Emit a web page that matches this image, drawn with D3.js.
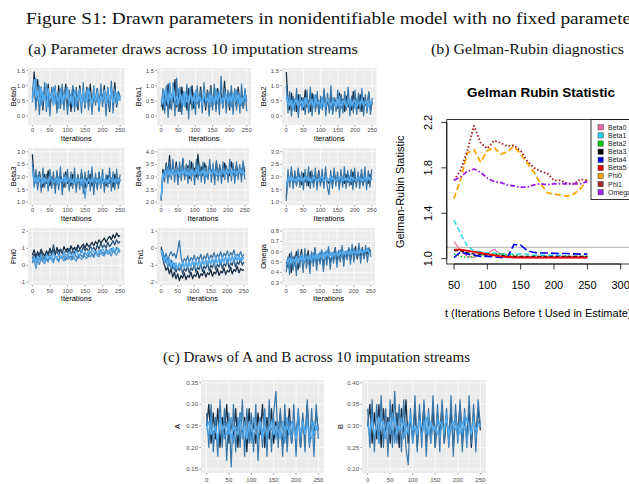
<!DOCTYPE html>
<html><head><meta charset="utf-8">
<script src="https://cdn.jsdelivr.net/npm/d3@7"></script>
<style>body{margin:0;background:#fff}svg{display:block}</style>
</head><body>
<script>
// Figure S1 — trace plots of drawn parameters (10 imputation streams, shown as
// a few representative streams per facet), Gelman-Rubin curves, and A/B draws.

// ---------- trace data: one array per stream, iterations 0..250 evenly ----------
const beta0 = [
  [.45,1.05,.2,.95,.05,.9,.3,1.1,.15,.85,0,.95,.35,1,.1,.8,.25,1.05,.2,.9,.05,.85,.4,1,.15,.95,.3,.85,.1,1.1,.25,.9,.2,.8,.05,1,.35,.9,.15,1.05,.3,.85,0,.95,.2,1.15,.1,.9,.35,.8,.5],
  [.6,1.45,.3,1.2,.4,.95,.2,.85,.45,1.05,.25,.75,.5,.9,.2,1,.35,.8,.55,1.05,.3,.7,.15,.95,.45,.8,.2,1,.4,.75,.3,.95,.5,1.05,.25,.7,.45,.9,.2,.85,.55,1,.3,.75,.15,.9,.45,1.1,.3,.8,.6],
  [.7,.9,1.25,.5,1,.35,.8,.55,1.05,.3,.75,.6,.95,.4,.7,.25,.9,.45,.8,.6,.95,.35,.7,.5,.85,.3,.65,.9,.45,.75,.35,.85,.55,.7,.4,.95,.5,.65,.3,.8,.45,.7,.55,.9,.35,.75,.5,.85,.4,.7,.65],
  [.5,1.2,.6,.85,.4,.95,.5,.7,.3,.9,.55,.75,.35,.85,.6,.5,.8,.4,.7,.55,.9,.45,.65,.3,.8,.6,.5,.75,.35,.85,.55,.45,.9,.6,.4,.7,.5,.8,.35,.65,.55,.85,.4,.7,.5,.9,.45,.6,.75,.5,.65]
];
const beta1 = [
  [.3,.9,.1,1,-.05,.85,.2,1.1,0,1.25,.15,.95,.05,.8,.3,1.05,-.1,.9,.2,.75,.05,1,.25,.85,.1,1.1,.3,.8,0,.95,.2,1.05,.15,.8,.05,1.3,.25,.9,.1,.85,.3,1,.05,.9,.2,.8,.1,1.05,.25,.9,.15],
  [.5,.2,.8,.35,1.05,.25,.7,.45,1.2,.3,.85,.15,.95,.5,.7,.2,.9,.4,1,.25,.75,.55,.3,.95,.4,.7,.2,.85,.5,1,.35,.65,.25,.9,.45,.75,.3,1.15,.4,.6,.2,.85,.5,.7,.3,.95,.45,.65,.25,.8,.5],
  [.4,.75,.3,.9,.5,1.1,.4,.8,.55,.35,.9,.6,.45,.8,.3,.7,.55,.95,.4,.65,.3,.8,.5,.6,.35,.85,.55,.45,.75,.3,.65,.5,.9,.4,.7,.55,.35,.8,.6,.45,.75,.3,.65,.5,.85,.4,.7,.35,.6,.75,.45],
  [.55,.45,.85,.6,.4,.75,.55,.95,.5,.65,.4,.7,.6,.35,.8,.5,.45,.7,.6,.5,.85,.45,.65,.55,.4,.75,.5,.6,.45,.7,.55,.4,.65,.5,.8,.45,.6,.55,.7,.4,.65,.5,.75,.45,.55,.7,.4,.6,.5,.65,.55]
];
const beta2 = [
  [1,.1,.8,0,.65,.15,.9,-.05,.7,.2,.6,.05,.85,.1,.95,0,.7,.15,.8,.05,.65,.2,.9,0,.75,.1,1,.05,.6,.15,.85,-.05,.7,.1,.8,.2,.95,0,.65,.1,.85,.05,.75,.15,.9,0,.7,.1,.8,.05,.6],
  [1.45,.5,.2,.75,.3,.55,.15,.7,.35,.6,.2,.85,.3,.5,.15,.75,.4,.25,.65,.1,.55,.35,.8,.2,.5,.3,.7,.15,.6,.4,.25,.75,.35,.55,.15,.65,.3,.5,.2,.8,.35,.55,.25,.7,.15,.6,.4,.3,.75,.2,.45],
  [.9,.3,.6,.4,.2,.55,.45,.3,.65,.25,.5,.4,.6,.2,.45,.55,.3,.7,.35,.5,.25,.6,.4,.3,.55,.45,.2,.6,.35,.5,.3,.65,.25,.45,.55,.35,.6,.3,.5,.4,.25,.55,.45,.3,.6,.35,.5,.25,.55,.4,.35],
  [.6,.45,.35,.5,.3,.45,.55,.35,.4,.5,.3,.6,.4,.35,.5,.45,.3,.55,.4,.45,.35,.5,.3,.45,.55,.4,.35,.5,.45,.3,.55,.4,.35,.5,.45,.3,.4,.55,.35,.45,.5,.3,.45,.4,.55,.35,.45,.5,.3,.45,.4]
];
const beta3 = [
  [2.6,1.6,2.3,1.5,2.2,1.4,2.35,1.6,2.1,1.45,2.3,1.55,2.2,1.35,2.25,1.5,2.4,1.3,2.15,1.6,2.3,1.45,2.2,1.55,2.35,1.4,2.1,1.5,2.3,1.35,2.2,1.6,2.25,1.45,2.4,1.3,2.15,1.5,2.2,1.55,2.3,1.4,2.1,1.6,2.35,1.45,2.2,1.5,2.3,1.55,2.1],
  [2.9,1.9,2.1,1.7,2.2,1.8,1.6,2.1,1.75,2.25,1.65,2,1.85,1.55,2.15,1.7,2.05,1.8,1.6,2.2,1.75,1.95,1.65,2.1,1.8,1.6,2.05,1.7,2.15,1.85,1.55,1.95,1.75,2.1,1.65,1.85,2,1.6,2.15,1.7,1.9,1.8,1.65,2.05,1.75,1.95,1.6,2.1,1.8,1.7,1.9],
  [2.4,2,1.75,2.05,1.85,1.7,2,1.8,1.9,1.65,2.1,1.85,1.75,1.95,1.7,2,1.8,1.9,1.75,2.05,1.85,1.7,1.95,1.8,2,1.75,1.9,1.85,1.65,1.95,1.15,1.8,1.9,1.7,2,1.85,1.75,1.95,1.8,1.7,2.05,1.85,1.75,1.9,1.8,1.65,2,1.85,1.75,1.95,1.8],
  [2.2,1.85,1.95,1.8,2,1.9,1.75,1.95,1.85,1.8,2,1.9,1.8,1.85,1.95,1.75,1.9,1.85,2,1.8,1.9,1.95,1.8,1.85,1.75,1.95,1.85,1.9,1.8,1.95,1.85,1.75,1.9,1.85,1.8,1.95,1.9,1.8,1.85,1.95,1.75,1.9,1.85,1.8,1.95,1.9,1.85,1.8,1.9,1.85,1.9]
];
const beta4 = [
  [2.05,3.1,2.8,3.5,2.75,3.6,2.9,3.7,2.8,3.45,2.7,3.6,2.85,3.75,2.9,3.5,2.75,3.65,2.85,3.55,2.7,3.7,2.9,3.5,2.8,3.6,2.75,3.45,2.9,3.7,2.8,3.55,2.7,3.65,2.85,3.5,2.75,3.6,2.9,3.45,2.8,3.7,2.85,3.55,2.75,3.6,2.9,3.5,2.8,3.65,2.9],
  [2.1,3.3,3,3.55,3.05,3.85,3,3.35,3.1,3.6,2.95,3.4,3.15,3.7,3,3.3,3.45,2.95,3.6,3.1,3.35,3,3.9,3.15,3.4,3.05,3.55,3.2,3,3.5,3.15,3.35,2.95,3.6,3.1,3.4,3.2,3,3.55,3.15,3.3,3.05,3.6,3.2,3,3.45,3.15,3.35,3.05,3.5,3.2],
  [2.15,3,3.25,3.1,3.4,3,3.3,3.15,3.05,3.35,3.2,3,3.4,3.1,3.25,3.05,3.35,3.15,3,3.3,3.2,3.1,3.45,3.05,3.25,3.15,3.35,3,3.2,3.3,3.1,3.4,3.15,3.05,3.3,3.2,3.1,3.35,3,3.25,3.15,3.4,3.1,3.2,3.3,3.05,3.25,3.15,3.35,3.1,3.2],
  [2.2,3.15,3,3.25,3.1,3.2,3.05,3.3,3.15,3.1,3.25,3.05,3.2,3.15,3.3,3.1,3.2,3.05,3.25,3.15,3.1,3.3,3.2,3.1,3.15,3.25,3.05,3.2,3.15,3.3,3.1,3.2,3.25,3.1,3.15,3.05,3.25,3.2,3.1,3.3,3.15,3.2,3.05,3.25,3.15,3.1,3.2,3.3,3.15,3.2,3.1]
];
const beta5 = [
  [1.05,2.3,1.6,2.4,1.55,2.25,1.65,2.35,1.6,2.2,1.5,2.3,1.65,2.4,1.55,2.25,1.6,2.35,1.5,2.2,1.65,2.3,1.55,2.4,1.6,1.3,2.25,1.55,2.35,1.65,2.2,1.5,2.3,1.6,2.4,1.55,2.25,1.65,2.3,1.5,2.35,1.6,2.2,1.55,2.3,1.65,2.4,1.5,2.25,1.6,2.3],
  [1.2,2.1,1.75,2.2,1.8,2.05,1.7,2.25,1.85,1.7,2.15,1.8,2,1.65,2.2,1.85,1.75,2.1,1.7,2.25,1.8,2,1.7,2.15,1.85,1.75,2.05,1.7,2.2,1.8,1.95,1.65,2.15,1.85,1.75,2.1,1.8,2,1.7,2.2,1.85,1.75,2.05,1.8,2.15,1.7,2,1.85,1.75,2.1,1.9],
  [1.5,1.95,1.85,2.05,1.9,1.8,2,1.85,1.95,2.05,1.8,1.9,2,1.85,1.95,1.8,2.05,1.9,1.85,2,1.9,1.8,1.95,2.05,1.85,1.9,1.8,2,1.9,1.85,2.05,1.9,1.8,1.95,2,1.85,1.9,2.05,1.8,1.95,1.9,1.85,2,1.9,1.8,1.95,2.05,1.85,1.9,2,1.9],
  [1.8,1.9,2,1.85,1.95,1.9,1.85,2,1.9,1.95,1.85,2,1.9,1.95,1.85,1.9,2,1.95,1.85,1.9,1.95,2,1.85,1.9,1.95,1.85,2,1.9,1.95,1.85,1.9,1.95,2,1.85,1.9,1.95,1.9,1.85,2,1.95,1.9,1.85,1.95,2,1.9,1.85,1.95,1.9,2,1.9,1.95]
];
const phi0 = [
  [.6,.9,.5,.8,.6,.95,.7,.55,.85,.65,1,.75,.9,.6,1.05,.8,.95,.7,1.1,.85,1,.75,1.15,.9,1.05,.8,1.2,.95,1.1,1.25,1,1.3,1.1,1.2,1.35,1.15,1.4,1.25,1.5,1.3,1.45,1.6,1.35,1.55,1.7,1.5,1.8,1.6,1.9,1.7,1.75],
  [.4,.65,.3,.7,.45,.8,.5,.35,.75,.55,.9,.6,1.2,.7,.85,.55,.95,.7,.6,.9,.75,1,.65,.85,.7,1.05,.8,.9,.75,1.1,.85,1,.8,1.15,.9,1.05,.85,1.2,.95,1.3,1.05,1.2,1,1.35,1.1,1.25,1.45,1.2,1.5,1.3,1.4],
  [.2,.5,.15,.45,.3,.55,.25,.5,.35,.2,.6,.4,.3,.55,.45,.25,.6,.4,.5,.3,.65,.45,.55,.35,.7,.5,.4,.65,.55,.45,.75,.6,.5,.8,.65,.55,.85,.7,.6,.9,.75,.65,.95,.8,.7,1,.85,.75,1.05,.9,.85],
  [.1,.35,-.2,.3,.05,.4,.2,.1,.45,.25,.5,.3,.15,.55,.35,.2,.5,.4,.25,.6,.35,.45,.3,.55,.4,.25,.6,.45,.35,.65,.5,.4,.7,.5,.6,.45,.75,.55,.5,.8,.6,.55,.85,.65,.7,.55,.9,.7,.6,.85,.75],
  [.3,.5,.2,.55,.35,.6,.4,.25,.65,.45,.55,.35,.7,.5,.4,.65,.55,.45,.75,.6,.5,.8,.6,.7,.55,.85,.65,.6,.9,.7,.75,.6,.85,.7,.95,.75,.8,.65,.9,.75,1,.8,.85,.7,.95,.8,1.05,.85,.9,1,.85]
];
const phi1 = [
  [0,-.6,-1,-1.3,-1.1,-1.5,-1.2,-1.7,-1.4,-1.8,-1.5,-1.9,-1.6,-1.75,-1.45,-1.85,-1.6,-1.7,-1.4,-1.8,-1.55,-1.65,-1.35,-1.75,-1.5,-1.6,-1.3,-1.7,-1.45,-1.55,-1.25,-1.65,-1.4,-1.5,-1.2,-1.6,-1.35,-1.45,-1.15,-1.55,-1.3,-1.4,-1.1,-1.5,-1.25,-1.35,-1.05,-1.45,-1.2,-1.3,-1.25],
  [.1,-.3,-.5,-.8,-.6,-1,-.7,-1.2,-.9,-1.4,-1.1,-1.3,-1,-1.5,-1.2,-1.35,-1.05,-1.45,-1.15,-1.3,-.95,-1.4,-1.1,-1.25,-.9,-1.35,-1.05,-1.2,-.85,-1.3,-1,-1.15,-.8,-1.25,-.95,-1.1,-.75,-1.2,-.9,-1.05,-.7,-1.15,-.85,-1,-.65,-1.1,-.8,-.95,-.6,-1,-.8],
  [-.1,-.2,-.6,-.3,-.7,-.4,-.2,-.45,-.3,-.6,-.1,.45,-.5,-.9,-.6,-.75,-.45,-.85,-.55,-.7,-.4,-.8,-.5,-.65,-.35,-.75,-.45,-.6,-.3,-.7,-.4,-.55,-.25,-.65,-.35,-.5,-.2,-.6,-.3,-.45,-.15,-.55,-.25,-.4,-.1,-.5,-.35,-.45,-.2,-.5,-.35],
  [-.2,-.5,-.9,-.7,-1.1,-.8,-1.2,-.9,-1.3,-1,-1.15,-.85,-1.25,-.95,-1.1,-.8,-1.2,-.9,-1.05,-.75,-1.15,-.85,-1,-.7,-1.1,-.8,-.95,-.65,-1.05,-.75,-.9,-.6,-1,-.7,-.85,-.55,-.95,-.65,-.8,-.5,-.9,-.6,-.75,-.45,-.85,-.55,-.7,-.4,-.8,-.5,-.6],
  [-.1,-.4,-.7,-.5,-.9,-.6,-1,-.75,-1.1,-.85,-1.2,-.9,-1.05,-.8,-1.15,-.85,-1,-.75,-1.1,-.8,-.95,-.7,-1.05,-.8,-.9,-.65,-1,-.75,-.85,-.6,-.95,-.7,-.8,-.55,-.9,-.65,-.75,-.5,-.85,-.6,-.7,-.45,-.8,-.55,-.65,-.4,-.75,-.5,-.6,-.7,-.55]
];
const omega = [
  [.4,.55,.38,.6,.42,.56,.37,.62,.45,.58,.4,.63,.44,.57,.39,.6,.46,.64,.42,.58,.48,.62,.41,.6,.47,.65,.43,.59,.49,.63,.45,.61,.5,.66,.46,.6,.52,.64,.48,.67,.5,.62,.54,.68,.49,.63,.53,.66,.5,.64,.55],
  [.5,.45,.58,.4,.55,.48,.6,.43,.52,.62,.46,.56,.5,.61,.44,.57,.52,.63,.47,.55,.5,.6,.46,.58,.53,.62,.49,.56,.52,.64,.5,.58,.55,.62,.51,.59,.56,.63,.52,.6,.57,.65,.53,.6,.56,.64,.54,.61,.58,.63,.6],
  [.45,.52,.47,.55,.5,.46,.56,.49,.53,.58,.48,.54,.57,.5,.55,.52,.59,.51,.56,.53,.6,.52,.57,.54,.61,.53,.58,.55,.6,.54,.59,.56,.62,.55,.58,.57,.61,.56,.6,.58,.63,.57,.6,.59,.62,.58,.61,.6,.63,.59,.6],
  [.52,.5,.54,.49,.53,.51,.55,.5,.54,.52,.56,.51,.55,.53,.57,.52,.56,.54,.58,.53,.57,.55,.59,.54,.58,.56,.6,.55,.58,.57,.6,.56,.59,.58,.61,.57,.6,.58,.62,.58,.6,.59,.61,.58,.62,.59,.61,.6,.62,.6,.59]
];
const drawsA = [
  [.28,.2,.3,.19,.27,.18,.31,.2,.29,.17,.28,.155,.3,.19,.27,.2,.31,.18,.29,.21,.28,.19,.3,.17,.27,.2,.29,.18,.31,.19,.28,.33,.2,.29,.18,.3,.19,.27,.21,.3,.18,.29,.2,.28,.19,.31,.2,.29,.18,.3,.22],
  [.25,.3,.21,.28,.22,.29,.2,.27,.23,.3,.21,.26,.22,.29,.2,.28,.23,.27,.19,.29,.22,.26,.21,.28,.23,.3,.2,.27,.22,.29,.21,.26,.23,.28,.2,.27,.22,.29,.21,.26,.23,.28,.2,.27,.22,.3,.21,.26,.23,.28,.24],
  [.26,.22,.27,.23,.25,.21,.28,.24,.22,.26,.23,.27,.21,.25,.24,.28,.22,.26,.23,.25,.21,.27,.24,.22,.26,.23,.28,.21,.25,.24,.27,.22,.26,.23,.25,.21,.27,.24,.22,.26,.23,.28,.22,.25,.24,.27,.21,.26,.23,.25,.24],
  [.24,.26,.23,.25,.24,.22,.26,.24,.25,.23,.26,.22,.25,.24,.23,.26,.24,.25,.22,.26,.24,.23,.25,.24,.26,.22,.25,.23,.24,.26,.23,.25,.24,.22,.26,.24,.25,.23,.26,.24,.22,.25,.24,.26,.23,.25,.24,.22,.26,.24,.25]
];
const drawsB = [
  [.34,.25,.36,.24,.35,.26,.37,.25,.34,.23,.36,.25,.38,.26,.35,.24,.36,.25,.21,.34,.26,.37,.24,.35,.25,.36,.23,.34,.26,.37,.25,.35,.24,.36,.26,.34,.25,.37,.23,.35,.26,.36,.24,.34,.25,.37,.26,.35,.24,.36,.3],
  [.3,.35,.26,.33,.27,.35,.25,.34,.28,.32,.26,.35,.27,.33,.25,.34,.28,.36,.26,.32,.27,.34,.25,.33,.28,.35,.26,.32,.27,.34,.25,.33,.28,.35,.26,.32,.27,.34,.25,.33,.28,.35,.26,.32,.27,.34,.25,.33,.28,.34,.29],
  [.31,.27,.32,.28,.3,.26,.33,.29,.27,.31,.28,.33,.26,.3,.29,.32,.27,.31,.28,.33,.26,.3,.29,.32,.27,.31,.28,.33,.26,.3,.29,.32,.27,.31,.28,.33,.26,.3,.29,.32,.27,.31,.28,.33,.26,.3,.29,.32,.27,.31,.3],
  [.3,.29,.31,.28,.3,.32,.29,.31,.28,.3,.31,.29,.32,.28,.3,.29,.31,.28,.3,.32,.29,.3,.28,.31,.3,.29,.32,.28,.31,.29,.3,.28,.31,.3,.29,.32,.28,.3,.31,.29,.3,.28,.31,.29,.32,.3,.28,.31,.29,.3,.3]
];

// tick labels
const iterTicks = [0, 50, 100, 150, 200, 250];
const betaLowTicks = [0, 0.5, 1, 1.5];
const beta3Ticks = [1, 1.5, 2, 2.5, 3];
const beta4Ticks = [2, 2.5, 3, 3.5, 4];
const phi0Ticks = [-1, 0, 1, 2];
const phi1Ticks = [-2, -1, 0, 1];
const omegaTicks = [0.3, 0.4, 0.5, 0.6, 0.7, 0.8];
const aTicks = [0.15, 0.2, 0.25, 0.3, 0.35];
const bTicks = [0.2, 0.25, 0.3, 0.35, 0.4];

// ---------- Gelman-Rubin data ----------
const grT = [50,60,70,80,90,100,110,120,130,140,150,160,170,180,190,200,210,220,230,240,250];
const grNames = ["Beta0","Beta1","Beta2","Beta3","Beta4","Beta5","Phi0","Phi1","Omega"];
const grBeta0 = [1.15,1.07,1.02,1.01,1.04,1.05,1.08,1.04,1.02,1.02,1.01,1.01,1.01,1.01,1.01,1.01,1.01,1.01,1.01,1.01,1.01];
const grBeta1 = [1.34,1.22,1.11,1.07,1.06,1.05,1.05,1.04,1.04,1.04,1.04,1.04,1.03,1.03,1.03,1.03,1.03,1.02,1.02,1.02,1.02];
const grBeta2 = [1.04,1.02,1.01,1.02,1.03,1.04,1.04,1.045,1.035,1.03,1.02,1.02,1.02,1.015,1.015,1.015,1.015,1.02,1.02,1.02,1.02];
const grBeta3 = [1.07,1.07,1.05,1.04,1.04,1.03,1.03,1.03,1.02,1.02,1.02,1.02,1.02,1.02,1.02,1.02,1.02,1.02,1.02,1.02,1.02];
const grBeta4 = [1.01,1.06,1.04,1.03,1.02,1.02,1.015,1.01,1.01,1.125,1.12,1.07,1.055,1.05,1.05,1.047,1.045,1.045,1.042,1.04,1.04];
const grBeta5 = [1.08,1.08,1.07,1.06,1.05,1.04,1.03,1.02,1.015,1.01,1.01,1.01,1.01,1.01,1.01,1.01,1.01,1.01,1.01,1.01,1.01];
const grPhi0 = [1.53,1.70,1.93,1.96,1.85,1.95,1.98,1.92,1.94,1.99,1.92,1.84,1.76,1.66,1.58,1.57,1.56,1.55,1.57,1.62,1.69];
const grPhi1 = [1.69,1.78,1.95,2.17,2.02,1.97,2.04,2.02,1.99,2.0,1.95,1.86,1.80,1.77,1.75,1.69,1.69,1.66,1.66,1.70,1.69];
const grOmega = [1.69,1.72,1.77,1.79,1.76,1.71,1.68,1.67,1.65,1.64,1.63,1.63,1.65,1.66,1.65,1.66,1.66,1.66,1.66,1.66,1.68];
const grXTicks = [50, 100, 150, 200, 250, 300];
const grYTicks = [1.0, 1.4, 1.8, 2.2];

// ---------- drawing ----------
const svg = d3.select("body").append("svg").attr("width", 629).attr("height", 484);
const SANS = "'Liberation Sans', Arial, Helvetica, sans-serif";
const SERIF = "'Liberation Serif', 'DejaVu Serif', serif";
const shade = d3.interpolateLab("#132B43", "#56B1F7");
// position of each stream on the ggplot dark->light gradient; lighter ones are drawn last
const mixShades = [0.6, 0, 0.82, 1];
const driftShades = [0, 0.3, 0.6, 0.8, 1];
const fmtTick = f => v => d3.format(f)(v).replace("\u2212", "-");

function heading(txt, x, y, size, len) {
  svg.append("text").attr("x", x).attr("y", y)
    .attr("font-family", SERIF).attr("font-size", size).attr("fill", "#111")
    .attr("textLength", len).attr("lengthAdjust", "spacingAndGlyphs").text(txt);
}
heading("Figure S1: Drawn parameters in nonidentifiable model with no fixed parameters", 26, 24, 16.5, 619);
heading("(a) Parameter draws across 10 imputation streams", 28, 54, 14, 330);
heading("(b) Gelman-Rubin diagnostics", 431, 54, 14, 193);
heading("(c) Draws of A and B across 10 imputation streams", 163, 362, 14, 307);

function trace(p) {
  const [x0, y0, x1, y1] = p.box;
  const x = d3.scaleLinear().domain([-12.5, 262.5]).range([x0, x1]);
  const y = d3.scaleLinear().domain(p.dom).range([y1, y0]);
  const g = svg.append("g");
  g.append("rect").attr("x", x0).attr("y", y0).attr("width", x1 - x0).attr("height", y1 - y0).attr("fill", "#EBEBEB");

  const step = p.ticks[1] - p.ticks[0];
  const yMinor = [p.ticks[0] - step / 2, ...p.ticks.map(t => t + step / 2)].filter(v => v > p.dom[0] && v < p.dom[1]);
  const xMinor = [25, 75, 125, 175, 225];
  g.selectAll(".ym").data(yMinor).join("line")
    .attr("x1", x0).attr("x2", x1).attr("y1", d => y(d)).attr("y2", d => y(d))
    .attr("stroke", "#fff").attr("stroke-width", 0.35);
  g.selectAll(".xm").data(xMinor).join("line")
    .attr("y1", y0).attr("y2", y1).attr("x1", d => x(d)).attr("x2", d => x(d))
    .attr("stroke", "#fff").attr("stroke-width", 0.35);
  g.append("g").selectAll("line").data(p.ticks).join("line")
    .attr("x1", x0).attr("x2", x1).attr("y1", d => y(d)).attr("y2", d => y(d))
    .attr("stroke", "#fff").attr("stroke-width", 0.7);
  g.append("g").selectAll("line").data(iterTicks).join("line")
    .attr("y1", y0).attr("y2", y1).attr("x1", d => x(d)).attr("x2", d => x(d))
    .attr("stroke", "#fff").attr("stroke-width", 0.7);

  const shades = p.vals.length === 5 ? driftShades : mixShades;
  const streams = p.vals.map((v, k) => ({ v, t: shades[k] })).sort((a, b) => a.t - b.t);
  const line = d3.line().x((v, i, arr) => x(i * 250 / (arr.length - 1))).y(v => y(v));
  g.append("g").selectAll("path").data(streams).join("path")
    .attr("d", d => line(d.v))
    .attr("fill", "none").attr("stroke-width", 1.25).attr("stroke-linejoin", "round")
    .attr("stroke", d => shade(d.t));

  // ticks & labels
  g.append("g").selectAll("line").data(p.ticks).join("line")
    .attr("x1", x0 - 1.6).attr("x2", x0).attr("y1", d => y(d)).attr("y2", d => y(d))
    .attr("stroke", "#333").attr("stroke-width", 0.5);
  g.append("g").selectAll("text").data(p.ticks).join("text")
    .attr("x", x0 - 3).attr("y", d => y(d)).attr("dy", "0.35em")
    .attr("text-anchor", "end").attr("font-family", SANS).attr("font-size", 6).attr("fill", "#4D4D4D")
    .text(fmtTick(p.fmt));
  g.append("g").selectAll("line").data(iterTicks).join("line")
    .attr("y1", y1).attr("y2", y1 + 1.6).attr("x1", d => x(d)).attr("x2", d => x(d))
    .attr("stroke", "#333").attr("stroke-width", 0.5);
  g.append("g").selectAll("text").data(iterTicks).join("text")
    .attr("x", d => x(d)).attr("y", y1 + p.lab).attr("text-anchor", "middle")
    .attr("font-family", SANS).attr("font-size", 6).attr("fill", "#4D4D4D").text(d => d);
  g.append("text")
    .attr("transform", `translate(${p.tx},${(y0 + y1) / 2}) rotate(-90)`)
    .attr("text-anchor", "middle").attr("dy", "0.35em")
    .attr("font-family", SANS).attr("font-size", 7.5).attr("fill", "#000").text(p.name);
  if (p.iter) g.append("text").attr("x", (x0 + x1) / 2).attr("y", y1 + 16)
    .attr("text-anchor", "middle").attr("font-family", SANS).attr("font-size", 7.5).text("Iterations");
}

[
  { vals: beta0, name: "Beta0", ticks: betaLowTicks, fmt: ".1f", dom: [-0.3, 1.58], box: [28, 68, 124.5, 125], tx: 13, lab: 7, iter: true },
  { vals: beta1, name: "Beta1", ticks: betaLowTicks, fmt: ".1f", dom: [-0.3, 1.58], box: [157, 68, 251, 125], tx: 138, lab: 7, iter: true },
  { vals: beta2, name: "Beta2", ticks: betaLowTicks, fmt: ".1f", dom: [-0.3, 1.58], box: [282, 68, 376.5, 125], tx: 263, lab: 7, iter: true },
  { vals: beta3, name: "Beta3", ticks: beta3Ticks, fmt: ".1f", dom: [0.893, 3.146], box: [28, 148, 124.5, 205], tx: 13, lab: 7, iter: true },
  { vals: beta4, name: "Beta4", ticks: beta4Ticks, fmt: ".1f", dom: [1.893, 4.146], box: [157, 148, 249, 205], tx: 138, lab: 7, iter: true },
  { vals: beta5, name: "Beta5", ticks: beta3Ticks, fmt: ".1f", dom: [0.893, 3.146], box: [282, 148, 376, 205], tx: 263, lab: 7, iter: true },
  { vals: phi0, name: "Phi0", ticks: phi0Ticks, fmt: "d", dom: [-1.159, 2.194], box: [28, 228, 124.5, 285], tx: 13, lab: 8, iter: true },
  { vals: phi1, name: "Phi1", ticks: phi1Ticks, fmt: "d", dom: [-2.159, 1.194], box: [157, 228, 248, 285], tx: 140, lab: 8, iter: true },
  { vals: omega, name: "Omega", ticks: omegaTicks, fmt: ".1f", dom: [0.278, 0.829], box: [282, 228, 375, 285], tx: 263, lab: 8, iter: true },
  { vals: drawsA, name: "A", ticks: aTicks, fmt: ".2f", dom: [0.1409, 0.3563], box: [201, 380, 324, 473], tx: 177, lab: 8.5, iter: false },
  { vals: drawsB, name: "B", ticks: bTicks, fmt: ".2f", dom: [0.1909, 0.4063], box: [362, 380, 486, 473], tx: 340, lab: 8.5, iter: false },
].forEach(trace);

// ---------- Gelman-Rubin panel (base-R look) ----------
(function () {
  const gx = d3.scaleLinear().domain([39.2, 330.8]).range([446.8, 641.2]);
  const gy = d3.scaleLinear().domain([0.953, 2.225]).range([264, 119.6]);
  const g = svg.append("g").attr("font-family", SANS);
  const [L, R, T, B] = [gx.range()[0], gx.range()[1], gy.range()[1], gy.range()[0]];

  g.append("text").attr("x", 541).attr("y", 97).attr("text-anchor", "middle")
    .attr("font-size", 13.5).attr("font-weight", "bold").text("Gelman Rubin Statistic");

  g.append("line").attr("x1", L).attr("x2", R).attr("y1", gy(1.1)).attr("y2", gy(1.1))
    .attr("stroke", "#BEBEBE").attr("stroke-width", 1.2);

  const series = [
    { v: grBeta0, c: "#EE6AA7", dash: null, w: 1.2 },
    { v: grBeta1, c: "#22D3EE", dash: "5,3", w: 1.5 },
    { v: grBeta2, c: "#00CD00", dash: "1.5,2", w: 1.5 },
    { v: grBeta3, c: "#000000", dash: "4,2", w: 1.3 },
    { v: grBeta4, c: "#0000EE", dash: "8,3", w: 1.6 },
    { v: grBeta5, c: "#EE0000", dash: null, w: 1.9 },
    { v: grPhi0, c: "#FFA500", dash: "6,3", w: 1.8 },
    { v: grPhi1, c: "#A52A2A", dash: "1.6,2", w: 1.9 },
    { v: grOmega, c: "#A020F0", dash: "5,2,1.6,2", w: 1.8 },
  ];
  const line = d3.line().x((v, i) => gx(grT[i])).y(v => gy(v));
  g.append("g").selectAll("path").data(series).join("path")
    .attr("d", d => line(d.v)).attr("fill", "none")
    .attr("stroke", d => d.c).attr("stroke-width", d => d.w)
    .attr("stroke-dasharray", d => d.dash).attr("stroke-linejoin", "round");

  // box
  g.append("rect").attr("x", L).attr("y", T).attr("width", R - L).attr("height", B - T)
    .attr("fill", "none").attr("stroke", "#000").attr("stroke-width", 0.8);

  // y axis
  g.append("line").attr("x1", L).attr("x2", L).attr("y1", gy(1.0)).attr("y2", gy(2.2)).attr("stroke", "#000").attr("stroke-width", 0.8);
  g.append("g").selectAll("line").data(grYTicks).join("line")
    .attr("x1", L - 5.5).attr("x2", L).attr("y1", d => gy(d)).attr("y2", d => gy(d)).attr("stroke", "#000").attr("stroke-width", 0.8);
  g.append("g").selectAll("text").data(grYTicks).join("text")
    .attr("transform", d => `translate(428,${gy(d)}) rotate(-90)`)
    .attr("text-anchor", "middle").attr("dy", "0.35em").attr("font-size", 11)
    .text(d => d3.format(".1f")(d));

  // x axis
  g.append("line").attr("x1", gx(50)).attr("x2", gx(300)).attr("y1", B).attr("y2", B).attr("stroke", "#000").attr("stroke-width", 0.8);
  g.append("g").selectAll("line").data(grXTicks).join("line")
    .attr("x1", d => gx(d)).attr("x2", d => gx(d)).attr("y1", B).attr("y2", B + 5.5).attr("stroke", "#000").attr("stroke-width", 0.8);
  g.append("g").selectAll("text").data(grXTicks).join("text")
    .attr("x", d => gx(d)).attr("y", 289).attr("text-anchor", "middle").attr("font-size", 11).text(d => d);

  g.append("text").attr("x", 445).attr("y", 316.5).attr("font-size", 11)
    .text("t (Iterations Before t Used in Estimate)");
  g.append("text").attr("transform", `translate(400,${(T + B) / 2}) rotate(-90)`)
    .attr("text-anchor", "middle").attr("dy", "0.35em").attr("font-size", 11).text("Gelman-Rubin Statistic");

  // legend (topright)
  const lg = g.append("g");
  lg.append("rect").attr("x", 591).attr("y", T).attr("width", R - 591).attr("height", 199.5 - T)
    .attr("fill", "#fff").attr("stroke", "#000").attr("stroke-width", 0.8);
  const items = lg.selectAll("g").data(grNames).join("g")
    .attr("transform", (d, i) => `translate(0,${127.3 + i * 8.12})`);
  items.append("rect").attr("x", 598).attr("y", -2.6).attr("width", 5.2).attr("height", 5.2)
    .attr("fill", (d, i) => series[i].c).attr("stroke", "#333").attr("stroke-width", 0.5);
  items.append("text").attr("x", 608).attr("dy", "0.35em").attr("font-size", 7).attr("fill", "#222").text(d => d);
})();
</script>
</body></html>
